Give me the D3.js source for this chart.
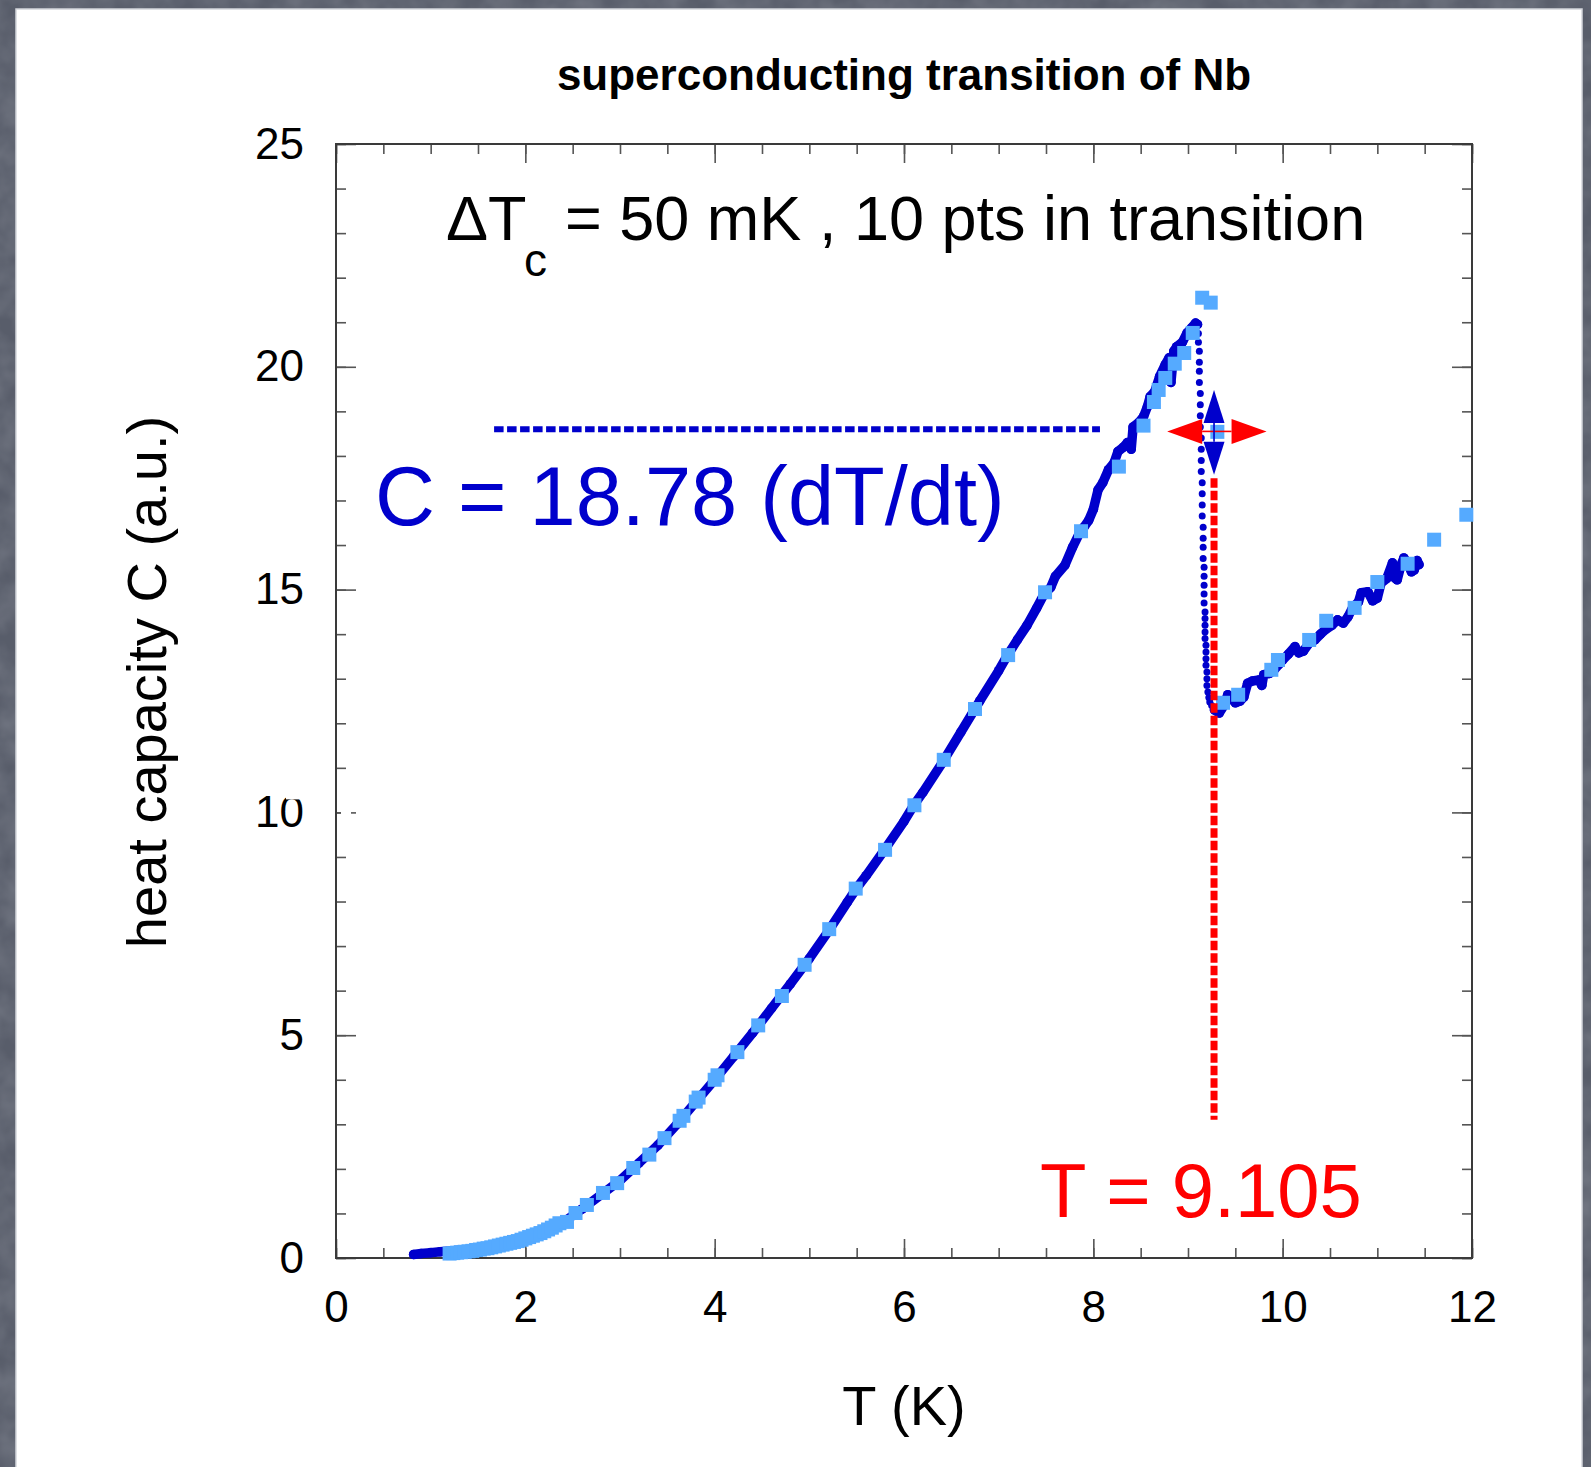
<!DOCTYPE html>
<html>
<head>
<meta charset="utf-8">
<title>superconducting transition of Nb</title>
<script src="https://cdn.jsdelivr.net/npm/d3@7"></script>
<style>
  html, body { margin: 0; padding: 0; background: #5b606d; }
  svg { display: block; }
  text { font-family: "Liberation Sans", Arial, Helvetica, sans-serif; }
</style>
</head>
<body>
<svg id="chart" width="1591" height="1467"></svg>
<script>
// ---- data ----------------------------------------------------------------

// continuous sweep below Tc  [T (K), C (a.u.)]
const sweepBelowTc = [
  [0.82,0.08],[0.90,0.10],[1.00,0.12],[1.10,0.14],[1.20,0.16],[1.40,0.19],[1.60,0.24],
  [1.80,0.33],[2.00,0.45],[2.20,0.61],[2.40,0.80],[2.60,1.10],[2.80,1.42],[3.00,1.74],
  [3.20,2.13],[3.40,2.53],[3.60,3.00],[3.80,3.50],[4.00,4.00],[4.20,4.52],[4.40,5.05],
  [4.60,5.60],[4.80,6.15],[5.00,6.72],[5.20,7.33],[5.40,7.98],[5.50,8.30],[5.60,8.58],
  [5.80,9.18],[6.00,9.80],[6.10,10.15],[6.20,10.45],[6.40,11.10],[6.60,11.80],[6.80,12.50],
  [7.00,13.18],[7.10,13.55],[7.20,13.88],[7.30,14.20],[7.40,14.58],[7.48,14.90],[7.55,15.05],
  [7.60,15.30],[7.70,15.55],[7.78,15.95],[7.85,16.25],[7.90,16.40],[7.95,16.55],[8.00,16.80],
  [8.05,17.24],[8.10,17.40],[8.16,17.69],[8.22,17.85],[8.26,18.10],[8.32,18.20],[8.36,18.30],
  [8.40,18.15],[8.42,18.65],[8.48,18.75],[8.53,18.88],[8.57,19.10],[8.60,19.33],[8.65,19.45],
  [8.70,19.78],[8.76,20.05],[8.80,20.20],[8.82,19.65],[8.85,20.35],[8.88,20.45],[8.94,20.55],
  [8.99,20.76],[9.04,20.88],[9.08,20.98],[9.10,20.95]
];

// individual points through the transition
const transitionDrop = [
  [9.11,20.75],[9.11,20.55],[9.12,20.35],[9.12,20.10],[9.12,19.90],[9.12,19.65],[9.13,19.40],
  [9.13,19.15],[9.13,18.90],[9.13,18.65],[9.14,18.40],[9.14,18.15],[9.14,17.90],[9.14,17.65],
  [9.15,17.40],[9.15,17.15],[9.15,16.90],[9.15,16.65],[9.16,16.40],[9.16,16.15],[9.16,15.95],
  [9.16,15.70],[9.17,15.50],[9.17,15.30],[9.17,15.10],[9.17,14.90],[9.17,14.70],[9.18,14.50],
  [9.18,14.35],[9.18,14.20],[9.18,14.05],[9.18,13.90],[9.19,13.75],[9.19,13.60],[9.19,13.45],
  [9.19,13.30],[9.20,13.15],[9.20,13.00],[9.20,12.85],[9.21,12.70],[9.22,12.58],[9.23,12.48],
  [9.25,12.40],[9.27,12.34]
];

// continuous sweep above Tc
const sweepAboveTc = [
  [9.28,12.30],[9.33,12.23],[9.38,12.40],[9.42,12.64],[9.46,12.55],[9.50,12.46],[9.55,12.50],
  [9.59,12.59],[9.63,12.90],[9.68,12.95],[9.75,12.97],[9.78,12.85],[9.80,13.09],[9.86,13.12],
  [9.91,13.20],[9.96,13.32],[10.00,13.42],[10.06,13.55],[10.13,13.72],[10.17,13.58],[10.22,13.62],
  [10.28,13.80],[10.34,13.87],[10.40,14.00],[10.45,14.10],[10.52,14.20],[10.58,14.32],[10.64,14.25],
  [10.69,14.39],[10.74,14.60],[10.80,14.72],[10.83,14.93],[10.90,14.95],[10.95,14.75],[11.00,14.81],
  [11.04,15.15],[11.10,15.25],[11.16,15.60],[11.19,15.25],[11.21,15.22],[11.25,15.55],[11.28,15.71],
  [11.33,15.55],[11.36,15.40],[11.39,15.44],[11.42,15.65],[11.44,15.56]
];

// heat-pulse measurements
const heatPulse = [
  [1.20,0.10],[1.24,0.11],[1.28,0.12],[1.32,0.13],[1.36,0.14],[1.40,0.15],[1.44,0.16],[1.48,0.18],
  [1.52,0.19],[1.56,0.21],[1.60,0.22],[1.64,0.24],[1.68,0.26],[1.72,0.28],[1.76,0.30],[1.80,0.32],
  [1.84,0.34],[1.88,0.36],[1.92,0.38],[1.96,0.41],[2.00,0.44],[2.04,0.47],[2.08,0.50],[2.12,0.53],
  [2.16,0.56],[2.20,0.60],[2.24,0.64],[2.28,0.68],[2.32,0.73],[2.36,0.78],
  [2.44,0.81],[2.53,1.01],[2.65,1.19],[2.82,1.46],[2.97,1.68],[3.14,2.02],[3.31,2.32],[3.47,2.69],
  [3.63,3.08],[3.67,3.19],[3.80,3.51],[3.83,3.60],[4.00,4.00],[4.03,4.10],[4.24,4.62],[4.46,5.22],
  [4.71,5.88],[4.95,6.58],[5.21,7.38],[5.49,8.29],[5.80,9.16],[6.11,10.16],[6.42,11.18],[6.75,12.32],
  [7.10,13.53],[7.49,14.94],[7.87,16.31],[8.27,17.76],[8.53,18.68],[8.64,19.21],[8.69,19.48],
  [8.76,19.75],[8.86,20.07],[8.96,20.31],[9.05,20.76],[9.15,21.55],[9.24,21.44],[9.31,18.54],
  [9.37,12.46],[9.53,12.64],[9.88,13.20],[9.95,13.42],[10.28,13.87],[10.46,14.30],[10.76,14.59],
  [11.00,15.17],[11.32,15.58],[11.60,16.12],[11.94,16.68]
];

// axis ticks
const xMajorTicks = [0, 2, 4, 6, 8, 10, 12];
const xMinorTicks = d3.range(0, 12.01, 0.5);
const yMajorTicks = [0, 5, 10, 15, 20, 25];
const yMinorTicks = d3.range(0, 25.01, 1);

// transition markers
const cLevel = 18.6;            // heat capacity level at mid transition
const cLevelSpan = [1.67, 8.07]; // T extent of the dashed level line
const tMid = 9.275;             // temperature at mid transition
const tMidSpan = [3.1, 17.5];   // C extent of the dashed temperature line
const cArrowSpan = [17.58, 19.48];
const tArrowSpan = [8.78, 9.83];
const cArrowCentre = 18.55;

const titleText = "superconducting transition of Nb";
const xLabel = "T (K)";
const yLabel = "heat capacity C (a.u.)";

// ---- drawing -------------------------------------------------------------

const DARK = "#0000cc", LIGHT = "#55aaff", RED = "#ff0000";
const svg = d3.select("#chart");
const W = 1591, H = 1467;

// slate backdrop with a faint mottled texture
const defs = svg.append("defs");
const f = defs.append("filter").attr("id", "slate").attr("x", 0).attr("y", 0)
  .attr("width", "100%").attr("height", "100%");
f.append("feTurbulence").attr("type", "fractalNoise").attr("baseFrequency", 0.035)
  .attr("numOctaves", 3).attr("seed", 4).attr("result", "n");
f.append("feColorMatrix").attr("type", "matrix")
  .attr("values", "0 0 0 0 0.36  0 0 0 0 0.38  0 0 0 0 0.43  0 0 0 0.9 -0.2");
svg.append("rect").attr("width", W).attr("height", H).attr("fill", "#585d6a");
svg.append("rect").attr("width", W).attr("height", H).attr("filter", "url(#slate)").attr("opacity", 0.5);

// white slide panel
svg.append("rect").attr("x", 16).attr("y", 9).attr("width", 1566).attr("height", H)
  .attr("fill", "#ffffff").attr("stroke", "#d4d6dc").attr("stroke-width", 1.5);

const x = d3.scaleLinear().domain([0, 12]).range([336, 1472]);
const y = d3.scaleLinear().domain([0, 25]).range([1258, 144]);

const g = svg.append("g");

// axes: major ticks with labels, minor ticks, all pointing inward
function styleAxis(sel) {
  sel.select(".domain").remove();
  sel.selectAll(".tick line").attr("stroke", "#555").attr("stroke-width", 1.6);
  sel.selectAll("text").attr("fill", "#000").style("font-size", "44px")
    .style("font-family", "\"Liberation Sans\", Arial, Helvetica, sans-serif");
}
const yb = y(0), yt = y(25), xl = x(0), xr = x(12);

g.append("g").attr("transform", `translate(0,${yb})`)
  .call(d3.axisBottom(x).tickValues(xMinorTicks).tickSize(-10).tickFormat(""))
  .call(styleAxis);
g.append("g").attr("transform", `translate(0,${yb})`)
  .call(d3.axisBottom(x).tickValues(xMajorTicks).tickSize(-19).tickPadding(33).tickFormat(d3.format("d")))
  .call(styleAxis);
g.append("g").attr("transform", `translate(0,${yt})`)
  .call(d3.axisTop(x).tickValues(xMinorTicks).tickSize(-10).tickFormat(""))
  .call(styleAxis);
g.append("g").attr("transform", `translate(0,${yt})`)
  .call(d3.axisTop(x).tickValues(xMajorTicks).tickSize(-19).tickFormat(""))
  .call(styleAxis);

g.append("g").attr("transform", `translate(${xl},0)`)
  .call(d3.axisLeft(y).tickValues(yMinorTicks).tickSize(-10).tickFormat(""))
  .call(styleAxis);
g.append("g").attr("transform", `translate(${xl},0)`)
  .call(d3.axisLeft(y).tickValues(yMajorTicks).tickSize(-20).tickPadding(32).tickFormat(d3.format("d")))
  .call(styleAxis);
g.append("g").attr("transform", `translate(${xr},0)`)
  .call(d3.axisRight(y).tickValues(yMinorTicks).tickSize(-10).tickFormat(""))
  .call(styleAxis);
g.append("g").attr("transform", `translate(${xr},0)`)
  .call(d3.axisRight(y).tickValues(yMajorTicks).tickSize(-20).tickFormat(""))
  .call(styleAxis);

// a scrap of white that clips the "10" label and its tick
const y10 = y(10);
g.append("rect").attr("x", 286).attr("y", y10 - 24).attr("width", 20).attr("height", 11).attr("fill", "#fff");
g.append("rect").attr("x", xl + 5).attr("y", y10 - 2).attr("width", 10).attr("height", 4).attr("fill", "#fff");

// frame
g.append("rect").attr("x", xl).attr("y", yt).attr("width", xr - xl).attr("height", yb - yt)
  .attr("fill", "none").attr("stroke", "#3a3a3a").attr("stroke-width", 2);

// titles
svg.append("text").attr("x", (xl + xr) / 2).attr("y", 90).attr("text-anchor", "middle")
  .style("font-size", "44px").style("font-weight", "bold").text(titleText);
svg.append("text").attr("x", (xl + xr) / 2).attr("y", 1425).attr("text-anchor", "middle")
  .style("font-size", "56px").text(xLabel);
svg.append("text").attr("transform", "translate(166,682) rotate(-90)").attr("text-anchor", "middle")
  .style("font-size", "56px").text(yLabel);

// ---- data marks ----
const line = d3.line().x(d => x(d[0])).y(d => y(d[1]));
const plot = svg.append("g");

[sweepBelowTc, sweepAboveTc].forEach(seg => {
  plot.append("path").attr("d", line(seg)).attr("fill", "none").attr("stroke", DARK)
    .attr("stroke-width", 9.5).attr("stroke-linejoin", "round").attr("stroke-linecap", "round");
  plot.selectAll(null).data(seg).join("circle")
    .attr("cx", d => x(d[0])).attr("cy", d => y(d[1])).attr("r", 4.8).attr("fill", DARK);
});
plot.selectAll(null).data(transitionDrop).join("circle")
  .attr("cx", d => x(d[0])).attr("cy", d => y(d[1])).attr("r", 3.5).attr("fill", DARK);

const sq = 14;
plot.selectAll(null).data(heatPulse).join("rect")
  .attr("x", d => x(d[0]) - sq / 2).attr("y", d => y(d[1]) - sq / 2)
  .attr("width", sq).attr("height", sq).attr("fill", LIGHT);

// ---- transition annotations ----
// dashed C level
svg.append("line")
  .attr("x1", x(cLevelSpan[0])).attr("x2", x(cLevelSpan[1]))
  .attr("y1", y(cLevel)).attr("y2", y(cLevel))
  .attr("stroke", DARK).attr("stroke-width", 6).attr("stroke-dasharray", "9.5,3.5");

// dashed T line
svg.append("line")
  .attr("x1", x(tMid)).attr("x2", x(tMid))
  .attr("y1", y(tMidSpan[1])).attr("y2", y(tMidSpan[0]))
  .attr("stroke", RED).attr("stroke-width", 7).attr("stroke-dasharray", "9.5,3");

// red horizontal double arrow
const ay = y(cArrowCentre), axL = x(tArrowSpan[0]), axR = x(tArrowSpan[1]);
const hl = 35, hw = 12.5;
svg.append("line").attr("x1", axL + hl).attr("x2", axR - hl).attr("y1", ay).attr("y2", ay)
  .attr("stroke", RED).attr("stroke-width", 1.6);
svg.append("path").attr("fill", RED)
  .attr("d", `M${axL},${ay}L${axL + hl},${ay - hw}L${axL + hl},${ay + hw}Z`);
svg.append("path").attr("fill", RED)
  .attr("d", `M${axR},${ay}L${axR - hl},${ay - hw}L${axR - hl},${ay + hw}Z`);

// blue vertical double arrow
const bx = x(tMid), byT = y(cArrowSpan[1]), byB = y(cArrowSpan[0]);
const vl = 33, vw = 10.5;
svg.append("line").attr("x1", bx).attr("x2", bx).attr("y1", byT + vl).attr("y2", byB - vl)
  .attr("stroke", DARK).attr("stroke-width", 1.6);
svg.append("path").attr("fill", DARK)
  .attr("d", `M${bx},${byT}L${bx - vw},${byT + vl}L${bx + vw},${byT + vl}Z`);
svg.append("path").attr("fill", DARK)
  .attr("d", `M${bx},${byB}L${bx - vw},${byB - vl}L${bx + vw},${byB - vl}Z`);

// text annotations
svg.append("text").attr("x", 446).attr("y", 240).style("font-size", "63px").text("\u0394T");
svg.append("text").attr("x", 524).attr("y", 276).style("font-size", "46px").text("c");
svg.append("text").attr("x", 565).attr("y", 240).style("font-size", "63px")
  .text("= 50 mK , 10 pts in transition");

svg.append("text").attr("x", 375).attr("y", 525).attr("fill", DARK).style("font-size", "83px")
  .text("C = 18.78 (dT/dt)");
svg.append("text").attr("x", 1040).attr("y", 1217).attr("fill", RED).style("font-size", "76px")
  .text("T = 9.105");
</script>
</body>
</html>
